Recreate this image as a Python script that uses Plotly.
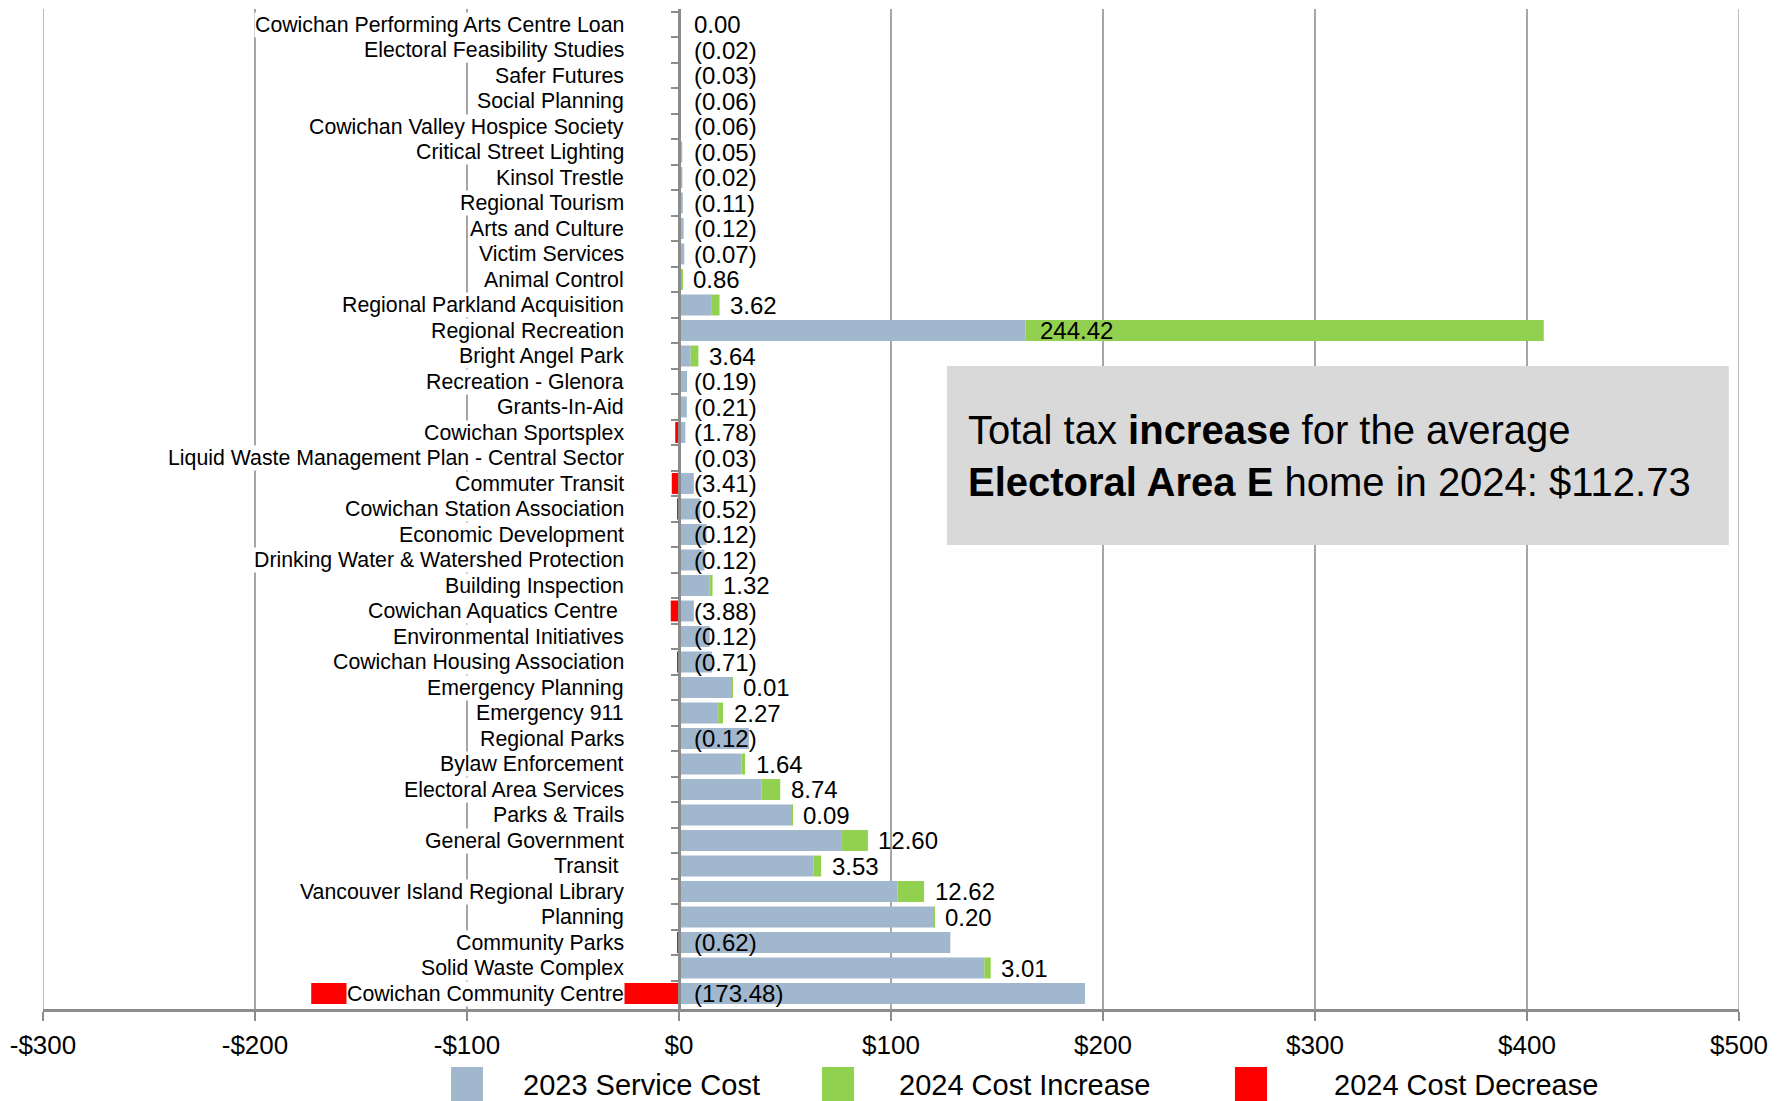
import plotly.graph_objects as go

# ---- data (top to bottom as shown) ----
services = [
    "Cowichan Performing Arts Centre Loan",
    "Electoral Feasibility Studies",
    "Safer Futures",
    "Social Planning",
    "Cowichan Valley Hospice Society",
    "Critical Street Lighting",
    "Kinsol Trestle",
    "Regional Tourism",
    "Arts and Culture",
    "Victim Services",
    "Animal Control",
    "Regional Parkland Acquisition",
    "Regional Recreation",
    "Bright Angel Park",
    "Recreation - Glenora",
    "Grants-In-Aid",
    "Cowichan Sportsplex",
    "Liquid Waste Management Plan - Central Sector",
    "Commuter Transit",
    "Cowichan Station Association",
    "Economic Development",
    "Drinking Water & Watershed Protection",
    "Building Inspection",
    "Cowichan Aquatics Centre ",
    "Environmental Initiatives",
    "Cowichan Housing Association",
    "Emergency Planning",
    "Emergency 911",
    "Regional Parks",
    "Bylaw Enforcement",
    "Electoral Area Services",
    "Parks & Trails",
    "General Government",
    "Transit ",
    "Vancouver Island Regional Library",
    "Planning",
    "Community Parks",
    "Solid Waste Complex",
    "Cowichan Community Centre",
]

cost_2023 = [
    0.0, 0.1, 0.2, 0.6, 0.7, 1.5, 1.6, 1.8, 2.2, 2.5,
    1.0, 15.5, 163.5, 5.5, 3.8, 3.7, 3.0, 0.3, 7.0, 10.0,
    13.0, 12.0, 14.5, 7.0, 14.5, 15.5, 25.0, 18.5, 33.0, 29.5,
    39.0, 53.5, 76.5, 63.5, 103.0, 120.5, 128.0, 144.0, 191.5,
]

change_2024 = [
    0.00, -0.02, -0.03, -0.06, -0.06, -0.05, -0.02, -0.11, -0.12, -0.07,
    0.86, 3.62, 244.42, 3.64, -0.19, -0.21, -1.78, -0.03, -3.41, -0.52,
    -0.12, -0.12, 1.32, -3.88, -0.12, -0.71, 0.01, 2.27, -0.12, 1.64,
    8.74, 0.09, 12.60, 3.53, 12.62, 0.20, -0.62, 3.01, -173.48,
]

x_ticks = [-300, -200, -100, 0, 100, 200, 300, 400, 500]

legend_names = ["2023 Service Cost", "2024 Cost Increase", "2024 Cost Decrease"]
box_text = ("Total tax <b>increase</b> for the average<br>"
            "<b>Electoral Area E</b> home in 2024: $112.73")

# ---- styles ----
BLUE = "#A0B7CE"
GREEN = "#92D050"
RED = "#FF0000"
GRID = "#A6A6A6"
AXIS = "#8C8C8C"
FONT = "Liberation Sans, Arial, sans-serif"

increase = [c if c > 0 else 0 for c in change_2024]
decrease = [c if c < 0 else 0 for c in change_2024]


def fmt(v):
    if v < 0:
        return f"({abs(v):.2f})"
    return f"{v:.2f}"


def money(v):
    return f"-${abs(v)}" if v < 0 else f"${v}"


fig = go.Figure()
fig.add_trace(go.Bar(y=services, x=cost_2023, orientation="h",
                     marker=dict(color=BLUE, line=dict(width=0)),
                     name=legend_names[0], showlegend=False))
fig.add_trace(go.Bar(y=services, x=increase, orientation="h",
                     marker=dict(color=GREEN, line=dict(width=0)),
                     name=legend_names[1], showlegend=False))
fig.add_trace(go.Bar(y=services, x=decrease, orientation="h",
                     marker=dict(color=RED, line=dict(width=0)),
                     name=legend_names[2], showlegend=False))

annotations = []
# category labels with white background (cover gridlines like the original)
for s in services:
    txt = s.rstrip() + ("\u00a0" if s.endswith(" ") else "")
    annotations.append(dict(
        x=-25.7, y=s, xref="x", yref="y", text=txt, showarrow=False,
        xanchor="right", yanchor="middle", bgcolor="white", borderpad=0,
        font=dict(family=FONT, size=21.3, color="black")))

# value labels
for s, b, c in zip(services, cost_2023, change_2024):
    if c > 100:
        xpos = b + 6
    elif c > 0:
        xpos = b + c + 4
    else:
        xpos = 6
    annotations.append(dict(
        x=xpos, y=s, xref="x", yref="y", text=fmt(c), showarrow=False,
        xanchor="left", yanchor="middle",
        font=dict(family=FONT, size=24, color="black")))

# summary text box
annotations.append(dict(
    x=0.5445, y=0.553, xref="paper", yref="paper", text=box_text,
    showarrow=False, xanchor="left", yanchor="middle", align="left",
    font=dict(family=FONT, size=40, color="black")))

shapes = []
# gridlines at the two range edges (plotly omits them)
for xv in (x_ticks[0], x_ticks[-1]):
    shapes.append(dict(type="line", xref="x", yref="paper", x0=xv, x1=xv,
                       y0=0, y1=1, line=dict(color=GRID, width=1.5),
                       layer="below"))

shapes.append(dict(type="rect", xref="paper", yref="paper",
                   x0=0.533, x1=0.994, y0=0.464, y1=0.643,
                   fillcolor="#D9D9D9", line=dict(width=0), layer="above"))

# legend (manual, large square keys)
leg_keys = [(0.2406, 0.2594, 0.2818, BLUE),
            (0.4593, 0.4782, 0.5035, GREEN),
            (0.7028, 0.7217, 0.7600, RED)]
for (k0, k1, tx, col), name in zip(leg_keys, legend_names):
    shapes.append(dict(type="rect", xref="paper", yref="paper",
                       x0=k0, x1=k1, y0=-0.058, y1=-0.1,
                       fillcolor=col, line=dict(width=0)))
    annotations.append(dict(
        x=tx, y=-0.076, xref="paper", yref="paper", text=name,
        showarrow=False, xanchor="left", yanchor="middle",
        font=dict(family=FONT, size=29, color="black")))

fig.update_layout(
    width=1787, height=1101,
    margin=dict(l=35, r=56, t=1, b=100),
    barmode="relative", bargap=0.18,
    paper_bgcolor="white", plot_bgcolor="white",
    annotations=annotations, shapes=shapes,
    showlegend=False,
    xaxis=dict(range=[-300, 500], tickvals=x_ticks,
               ticktext=[money(v) for v in x_ticks],
               showgrid=True, gridcolor=GRID, gridwidth=1.5,
               zeroline=False, showline=True, linecolor=AXIS, linewidth=3,
               ticks="outside", ticklen=9, tickwidth=2, tickcolor=AXIS,
               ticklabelstandoff=2,
               tickfont=dict(family=FONT, size=26, color="black"),
               automargin=False, fixedrange=True),
    yaxis=dict(type="category", autorange="reversed",
               showgrid=False, showticklabels=False, zeroline=False,
               showline=True, linecolor=AXIS, linewidth=2.5,
               ticks="outside", tickson="boundaries", ticklen=7,
               tickwidth=2, tickcolor=AXIS,
               anchor="free", position=0.375, automargin=False,
               fixedrange=True),
)

fig.write_html("out.html")
